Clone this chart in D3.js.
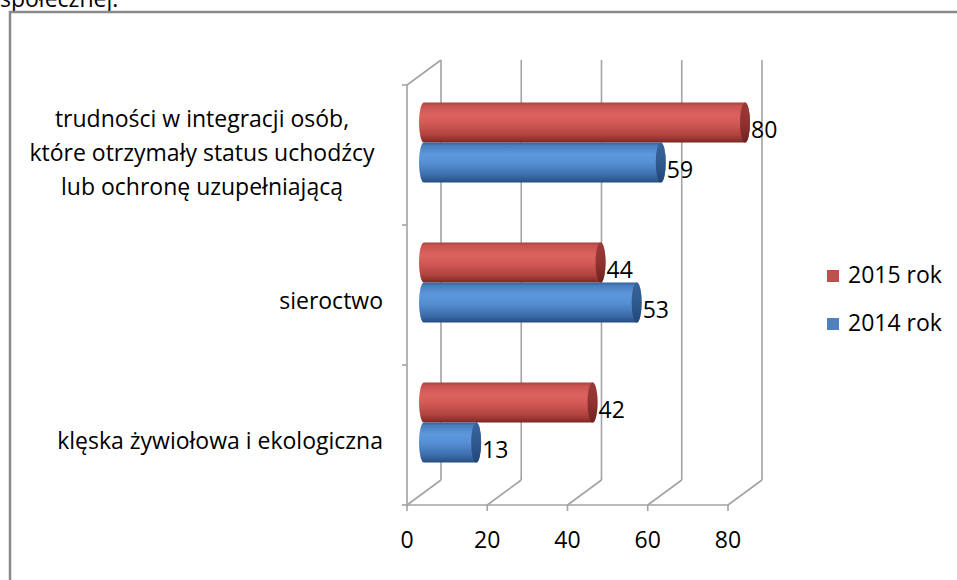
<!DOCTYPE html>
<html><head><meta charset="utf-8">
<script src="https://cdn.jsdelivr.net/npm/d3@7"></script>
<style>html,body{margin:0;padding:0;background:#fff;overflow:hidden}</style>
</head><body>
<svg id="c" width="957" height="580"></svg>
<script>
const categories = [
  ["trudności w integracji osób,", "które otrzymały status uchodźcy", "lub ochronę uzupełniającą"],
  ["sieroctwo"],
  ["klęska żywiołowa i ekologiczna"]
];
const seriesNames = ["2015 rok", "2014 rok"];
const values2015 = [80, 44, 42];
const values2014 = [59, 53, 13];
const tickValues = [0, 20, 40, 60, 80];
const headerText = "społecznej.";

const FONT = "'Open Sans', Lato, sans-serif";
const FS = 23;
const svg = d3.select("#c");
const colors = {"2015 rok": "#c0504d", "2014 rok": "#4f81bd"};

// header text and frame
svg.append("text").attr("x", 0).attr("y", 7).attr("font-family", FONT).attr("font-size", FS).attr("fill", "#000").text(headerText);
svg.append("rect").attr("x", 10).attr("y", 12).attr("width", 1100).attr("height", 1000)
  .attr("fill", "none").attr("stroke", "#8a8a8a").attr("stroke-width", 2.5);

const dx = 34, dy = -25;
const x = d3.scaleLinear().domain([0, 80]).range([407, 728]);
const catIdx = categories.map((d, i) => i);
const y = d3.scaleBand().domain(catIdx).range([85, 505]);
const xMid = v => x(v) + dx / 2;

const defs = svg.append("defs");
function grad(id, stops) {
  const g = defs.append("linearGradient").attr("id", id).attr("x1", 0).attr("y1", 0).attr("x2", 0).attr("y2", 1);
  stops.forEach(s => g.append("stop").attr("offset", s[0]).attr("stop-color", s[1]));
}
grad("g2015", [[0, "#a8423f"], [0.08, "#c9534f"], [0.3, "#dc625e"], [0.5, "#d45b57"], [0.8, "#b2433f"], [0.95, "#8c302d"], [1, "#7a2624"]]);
grad("g2014", [[0, "#35609a"], [0.08, "#4a7fc0"], [0.3, "#5e98dc"], [0.5, "#5690d4"], [0.8, "#3f70ae"], [0.95, "#2d5790"], [1, "#244a7c"]]);
grad("c2015", [[0, "#9a3a37"], [0.5, "#8e3331"], [1, "#6e2220"]]);
grad("c2014", [[0, "#3a659c"], [0.5, "#2f5a8f"], [1, "#234676"]]);

const grid = svg.append("g").attr("stroke", "#a3a3a3").attr("stroke-width", 1.6).attr("fill", "none");
tickValues.forEach(t => {
  grid.append("line").attr("x1", x(t) + dx).attr("x2", x(t) + dx).attr("y1", 85 + dy).attr("y2", 505 + dy);
  grid.append("line").attr("x1", x(t) + dx).attr("x2", x(t)).attr("y1", 505 + dy).attr("y2", 505);
  grid.append("line").attr("x1", x(t)).attr("x2", x(t)).attr("y1", 505).attr("y2", 511);
});
grid.append("line").attr("x1", x(0)).attr("x2", x(80)).attr("y1", 505).attr("y2", 505);
grid.append("line").attr("x1", x(0)).attr("x2", x(0)).attr("y1", 85).attr("y2", 505);
grid.append("line").attr("x1", x(0)).attr("x2", x(0) + dx).attr("y1", 85).attr("y2", 85 + dy);
[85].concat(catIdx.map(i => y(i) + y.bandwidth())).forEach(v => {
  grid.append("line").attr("x1", x(0) - 5).attr("x2", x(0)).attr("y1", v).attr("y2", v);
});

// tick labels
svg.append("g").selectAll("text").data(tickValues).join("text")
  .attr("x", d => x(d)).attr("y", 548).attr("text-anchor", "middle")
  .attr("font-family", FONT).attr("font-size", FS).attr("fill", "#000").text(d => d);

// category labels
categories.forEach((lines, i) => {
  const cy = y(i) + y.bandwidth() / 2;
  const n = lines.length;
  const off = n > 1 ? -3 : 5;
  const t = svg.append("text").attr("font-family", FONT).attr("font-size", FS).attr("fill", "#000")
    .attr("text-anchor", n > 1 ? "middle" : "end");
  lines.forEach((ln, j) => {
    t.append("tspan").attr("x", n > 1 ? 202 : 383).attr("y", cy + off + (j - (n - 1) / 2) * 34)
      .attr("dominant-baseline", "central").text(ln);
  });
});

// bars
const ys = d3.scaleBand().domain(seriesNames).range([-40, 40]);
const rx = 5;
const bars = [];
catIdx.forEach(i => {
  [["2015 rok", values2015[i]], ["2014 rok", values2014[i]]].forEach(([s, v]) => bars.push({i, s, v}));
});
const bg = svg.append("g");
bars.forEach(b => {
  const cy = y(b.i) + y.bandwidth() / 2 + dy / 2;
  const top = cy + ys(b.s), bot = top + ys.bandwidth();
  const x0 = xMid(0), x1 = xMid(b.v);
  const ry = ys.bandwidth() / 2;
  const key = b.s.slice(0, 4);
  bg.append("path")
    .attr("d", `M${x0},${top} L${x1},${top} A${rx},${ry} 0 0 1 ${x1},${bot} L${x0},${bot} A${rx},${ry} 0 0 1 ${x0},${top} Z`)
    .attr("fill", `url(#g${key})`);
  bg.append("ellipse").attr("cx", x1).attr("cy", (top + bot) / 2).attr("rx", rx).attr("ry", ry)
    .attr("fill", `url(#c${key})`);
  bg.append("text").attr("x", x1 + rx + 1).attr("y", (top + bot) / 2 + 15)
    .attr("font-family", FONT).attr("font-size", FS).attr("fill", "#000").text(b.v);
});

// legend
const lg = svg.append("g");
seriesNames.forEach((s, k) => {
  const yy = 283 + k * 48;
  lg.append("rect").attr("x", 827).attr("y", yy - 13).attr("width", 12).attr("height", 12).attr("fill", colors[s]);
  lg.append("text").attr("x", 848).attr("y", yy).attr("font-family", FONT).attr("font-size", FS).attr("fill", "#000").text(s);
});
</script>
</body></html>
